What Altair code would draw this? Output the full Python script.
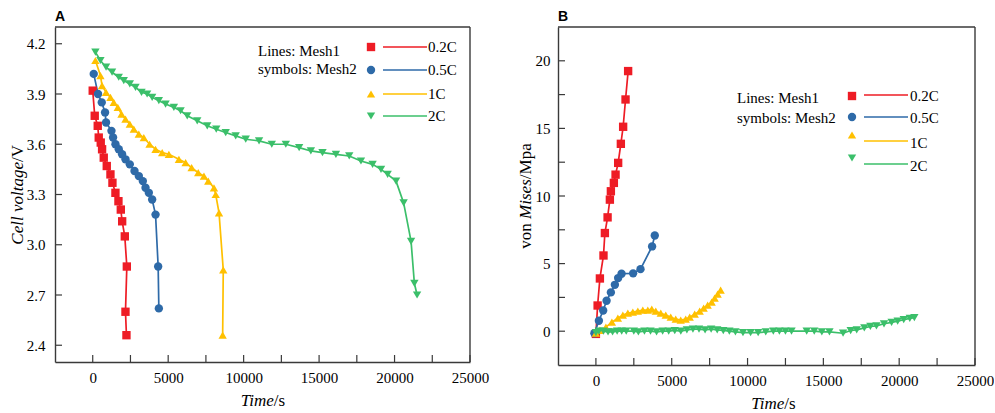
import altair as alt
import pandas as pd

SERIES = ["0.2C", "0.5C", "1C", "2C"]
COLORS = ["#EE1C25", "#2E6AA8", "#FFC000", "#3BBF6A"]
SHAPES = ["square", "circle", "triangle-up", "triangle-down"]

# ---- Panel A: cell voltage vs time ----
a_t_02 = [0, 133, 332, 398, 531, 620, 730, 930, 1174, 1306, 1505, 1704, 1860, 1950, 2125, 2260, 2170, 2235]
a_v_02 = [3.92, 3.77, 3.71, 3.64, 3.61, 3.57, 3.52, 3.47, 3.42, 3.37, 3.31, 3.26, 3.21, 3.14, 3.05, 2.87, 2.60, 2.46]
a_t_05 = [66, 352, 598, 817, 883, 1242, 1348, 1507, 1726, 1946, 2171, 2457, 2769, 3054, 3320, 3499, 3718, 3938, 4163, 4336, 4382]
a_v_05 = [4.02, 3.90, 3.85, 3.79, 3.73, 3.68, 3.64, 3.60, 3.57, 3.54, 3.51, 3.48, 3.44, 3.41, 3.38, 3.34, 3.31, 3.27, 3.18, 2.87, 2.62]
a_t_1 = [179, 511, 618, 883, 1175, 1394, 1660, 1906, 2171, 2457, 2722, 3054, 3386, 3765, 4163, 4602, 5046, 5710, 6155, 6554, 6992, 7370, 7656, 8034, 8150, 8370, 8650, 8610]
a_v_1 = [4.10, 4.01, 3.95, 3.91, 3.88, 3.85, 3.82, 3.78, 3.75, 3.72, 3.69, 3.66, 3.64, 3.60, 3.57, 3.55, 3.54, 3.51, 3.49, 3.46, 3.43, 3.41, 3.38, 3.34, 3.30, 3.19, 2.85, 2.46]
a_t_2 = [179, 511, 883, 1282, 1726, 2058, 2457, 2835, 3234, 3606, 3938, 4382, 4827, 5378, 5823, 6262, 6926, 7590, 8187, 8811, 9475, 10139, 11022, 11866, 12795, 13678, 14455, 15226, 16115, 16998, 17775, 18545, 19103, 19542, 20099, 20603, 21095, 21314, 21494]
a_v_2 = [4.15, 4.10, 4.06, 4.03, 4.00, 3.98, 3.96, 3.94, 3.91, 3.90, 3.88, 3.86, 3.84, 3.82, 3.80, 3.77, 3.74, 3.71, 3.69, 3.67, 3.65, 3.63, 3.62, 3.60, 3.60, 3.58, 3.56, 3.55, 3.54, 3.53, 3.50, 3.48, 3.45, 3.42, 3.38, 3.25, 3.02, 2.77, 2.70]

# ---- Panel B: von Mises stress vs time ----
b_t_02 = [0, 112, 263, 500, 592, 770, 921, 987, 1184, 1296, 1467, 1645, 1796, 1954, 2125]
b_v_02 = [-0.2, 1.9, 3.9, 5.6, 7.26, 8.42, 9.73, 10.35, 10.97, 11.58, 12.45, 13.86, 15.12, 17.14, 19.24]
b_t_05 = [-100, 197, 480, 704, 987, 1250, 1467, 1691, 2454, 2941, 3705, 3882]
b_v_05 = [-0.15, 0.77, 1.53, 2.25, 2.87, 3.43, 3.93, 4.25, 4.28, 4.59, 6.27, 7.08]
b_t_1 = [0, 263, 658, 1053, 1448, 1777, 2106, 2435, 2764, 3093, 3422, 3685, 3948, 4277, 4606, 4935, 5264, 5593, 5922, 6185, 6514, 6843, 7106, 7370, 7633, 7830, 8028, 8225]
b_v_1 = [-0.15, 0.07, 0.30, 0.67, 0.96, 1.19, 1.33, 1.41, 1.48, 1.56, 1.56, 1.63, 1.48, 1.33, 1.19, 1.04, 0.89, 0.82, 0.89, 1.04, 1.26, 1.48, 1.70, 1.93, 2.15, 2.45, 2.74, 3.04]
b_t_2 = [0, 200, 500, 800, 1100, 1400, 1700, 2000, 2500, 2800, 3200, 3600, 4000, 4400, 4800, 5200, 5600, 6000, 6400, 6800, 7200, 7600, 8000, 8400, 8800, 9200, 9700, 10200, 10700, 11200, 11700, 12100, 12500, 12900, 13900, 14400, 14900, 15400, 16300, 16800, 17200, 17700, 18100, 18500, 19000, 19500, 19900, 20300, 20700, 21000]
b_v_2 = [-0.1, 0.0, 0.0, -0.05, -0.05, 0.0, 0.0, 0.0, 0.0, -0.05, 0.0, 0.0, -0.05, 0.0, 0.0, 0.05, 0.0, 0.1, 0.15, 0.15, 0.1, 0.15, 0.1, 0.05, 0.0, -0.05, -0.1, -0.1, -0.1, -0.05, 0.0, 0.0, 0.0, 0.0, 0.0, 0.0, -0.05, -0.05, -0.15, 0.05, 0.1, 0.25, 0.35, 0.4, 0.55, 0.65, 0.75, 0.85, 0.95, 1.0]

# ---- axis ticks ----
x_labels = [0, 5000, 10000, 15000, 20000, 25000]
x_ticks = [0, 2500, 5000, 7500, 10000, 12500, 15000, 17500, 20000, 22500, 25000]
a_y_labels = [2.4, 2.7, 3.0, 3.3, 3.6, 3.9, 4.2]
b_y_labels = [0, 5, 10, 15, 20]
b_y_ticks = [0, 2.5, 5, 7.5, 10, 12.5, 15, 17.5, 20]

SERIF = "Liberation Serif"
SANS = "Liberation Sans"
FRAME = "#3a3a3a"
MSIZE = 70


def build_df(ts_list, vs_list):
    rows = []
    for s, ts, vs in zip(SERIES, ts_list, vs_list):
        for i, (t, v) in enumerate(zip(ts, vs)):
            rows.append({"series": s, "t": t, "v": v, "idx": i})
    return pd.DataFrame(rows)


one = pd.DataFrame({"k": [0]})


def txt(text, x, y, size=15, font=SERIF, align="left", baseline="alphabetic", angle=0, style="normal", weight="normal"):
    return alt.Chart(one).mark_text(
        text=text, font=font, fontSize=size, align=align, baseline=baseline,
        angle=angle, fontStyle=style, fontWeight=weight, color="black"
    ).encode(x=alt.value(x), y=alt.value(y))


def legend_layers(tx, ty1, ty2, sym_x, sym_ys, line_x1, line_x2, line_ys, lab_x, lab_ys):
    layers = [txt("Lines: Mesh1", tx, ty1), txt("symbols: Mesh2", tx, ty2)]
    for s, c, sh, sy, ly, laby in zip(SERIES, COLORS, SHAPES, sym_ys, line_ys, lab_ys):
        layers.append(alt.Chart(one).mark_point(filled=True, size=MSIZE, opacity=1, shape=sh, color=c)
                      .encode(x=alt.value(sym_x), y=alt.value(sy)))
        layers.append(alt.Chart(one).mark_rule(color=c, strokeWidth=1.6)
                      .encode(x=alt.value(line_x1), x2=alt.value(line_x2), y=alt.value(ly)))
        layers.append(txt(s, lab_x, laby, baseline="middle"))
    return layers


def panel(df, ydom, ylabels, yticks, W, H, ylab_pad, letter, ytitle_layers, xtitle_center):
    xs = alt.Scale(domain=[-2500, 25000], nice=False, zero=False)
    ys = alt.Scale(domain=ydom, nice=False, zero=False)
    cscale = alt.Scale(domain=SERIES, range=COLORS)
    sscale = alt.Scale(domain=SERIES, range=SHAPES)
    xaxis = alt.Axis(values=x_labels, title=None, grid=False, domain=True, domainColor=FRAME, domainWidth=1.4,
                     ticks=False, labelFlush=False, labelOverlap=False,
                     labelFont=SERIF, labelFontSize=15, labelColor="black", labelPadding=8, format="d")
    yaxis = alt.Axis(values=ylabels, title=None, grid=False, domain=True, domainColor=FRAME, domainWidth=1.4,
                     ticks=False, labelFlush=False, labelOverlap=False,
                     labelFont=SERIF, labelFontSize=15, labelColor="black", labelPadding=ylab_pad)
    X = alt.X("t:Q", scale=xs, axis=xaxis)
    Y = alt.Y("v:Q", scale=ys, axis=yaxis)
    lines = alt.Chart(df).mark_line(strokeWidth=1.7).encode(
        x=X, y=Y,
        color=alt.Color("series:N", scale=cscale, legend=None),
        order=alt.Order("idx:Q"),
    )
    pts = alt.Chart(df).mark_point(filled=True, size=MSIZE, opacity=1).encode(
        x=X, y=Y,
        color=alt.Color("series:N", scale=cscale, legend=None),
        shape=alt.Shape("series:N", scale=sscale, legend=None),
    )
    xt = alt.Chart(pd.DataFrame({"t": x_ticks})).mark_rule(color=FRAME, strokeWidth=1.2).encode(
        x=X, y=alt.value(H), y2=alt.value(H - 7))
    yt = alt.Chart(pd.DataFrame({"v": yticks})).mark_rule(color=FRAME, strokeWidth=1.2).encode(
        y=Y, x=alt.value(0), x2=alt.value(7))
    # top and right frame edges
    top = alt.Chart(one).mark_rule(color=FRAME, strokeWidth=1.4).encode(
        x=alt.value(0), x2=alt.value(W), y=alt.value(0))
    right = alt.Chart(one).mark_rule(color=FRAME, strokeWidth=1.4).encode(
        x=alt.value(W), y=alt.value(0), y2=alt.value(H))
    title_letter = txt(letter, 0, -6, size=14, font=SANS, weight="bold")
    xtitle = [txt("Time", xtitle_center + 11.3, H + 39, size=17, align="right", baseline="middle", style="italic"),
              txt("/s", xtitle_center + 11.3, H + 39, size=17, align="left", baseline="middle")]
    return [lines, pts, xt, yt, top, right, title_letter] + xtitle + ytitle_layers


# Panel A
WA, HA = 415, 335
dfA = build_df([a_t_02, a_t_05, a_t_1, a_t_2], [a_v_02, a_v_05, a_v_1, a_v_2])
ytA = [txt("Cell voltage", -37, 135, size=17, align="right", baseline="middle", angle=270, style="italic"),
       txt("/V", -37, 135, size=17, align="left", baseline="middle", angle=270)]
layersA = panel(dfA, [2.3, 4.3], a_y_labels, a_y_labels, WA, HA, 10, "A", ytA, WA / 2)
layersA += legend_layers(203, 29, 47, 316, [20, 43, 67, 89], 328, 372, [20, 43, 67, 89], 373, [20, 43, 67, 89])
chartA = alt.layer(*layersA).properties(width=WA, height=HA)

# Panel B
WB, HB = 417, 338
dfB = build_df([b_t_02, b_t_05, b_t_1, b_t_2], [b_v_02, b_v_05, b_v_1, b_v_2])
ytB = [txt("von", -32, 221.7, size=17, align="left", baseline="middle", angle=270),
       txt("Mises", -32, 191.9, size=17, align="left", baseline="middle", angle=270, style="italic"),
       txt("/Mpa", -32, 152.2, size=17, align="left", baseline="middle", angle=270)]
layersB = panel(dfB, [-2.5, 22.5], b_y_labels, b_y_ticks, WB, HB, 8, "B", ytB, 215)
layersB += legend_layers(179, 76, 96, 294, [69, 90, 108, 131], 306, 350, [68, 90, 114, 137], 352, [69, 91, 116, 139])
chartB = alt.layer(*layersB).properties(width=WB, height=HB)

chart = alt.hconcat(chartA, chartB, spacing=88, bounds="flush").properties(
    padding={"left": 9, "top": 10, "right": 0, "bottom": 0},
    background="white",
).configure_view(stroke=None, strokeWidth=0)

chart.save("out.html", embed_options={"renderer": "svg", "actions": False})
